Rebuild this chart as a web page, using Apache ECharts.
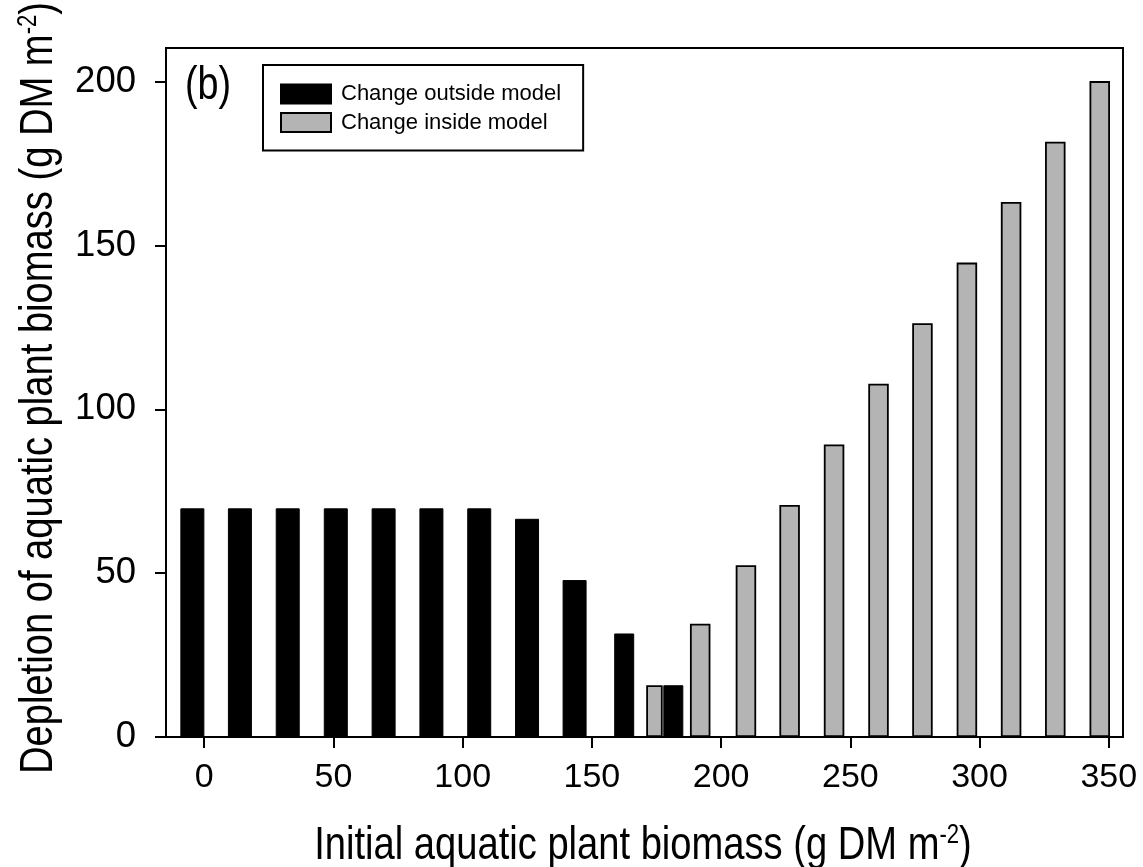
<!DOCTYPE html>
<html>
<head>
<meta charset="utf-8">
<script src="https://cdn.jsdelivr.net/npm/echarts@6/dist/echarts.min.js"></script>
<style>
  html, body { margin: 0; padding: 0; background: #fff; }
  #chart { width: 1143px; height: 867px; }
</style>
</head>
<body>
<div id="chart"></div>
<script>
// depletion values (x = initial biomass, y = depletion)
const outsideX = [-4.6, 13.8, 32.3, 50.9, 69.4, 87.9, 106.4, 124.9, 143.3];
const outsideY = [69.8, 69.8, 69.8, 69.8, 69.8, 69.8, 69.8, 66.6, 47.9];
const outsideNarrowX = [162.5, 181.5];
const outsideNarrowY = [31.6, 15.8];
const insideNarrowX = [174.2];
const insideNarrowY = [15.8];
const insideX = [191.9, 209.6, 226.5, 243.7, 260.9, 277.9, 295.1, 312.2, 329.3, 346.5];
const insideY = [34.6, 52.4, 70.8, 89.3, 107.8, 126.3, 144.8, 163.3, 181.7, 200.2];

const xTicks = [0, 50, 100, 150, 200, 250, 300, 350];
const yTicks = [0, 50, 100, 150, 200];

const OUTSIDE = "Change outside model";
const INSIDE = "Change inside model";
const X_TITLE = "{t|Initial aquatic plant biomass (g DM m}{s|-2}{t|)}";
const Y_TITLE = "{t|Depletion of aquatic plant biomass (g DM m}{s|-2}{t|)}";

const font = "'Liberation Sans', Arial, sans-serif";
// no condensed face is installed, so the narrow titles are squeezed horizontally
const SQUEEZE = 0.82;

const pairs = (xs, ys) => xs.map((x, i) => [x, ys[i]]);

const X_MIN = -14.8;
const X_MAX = 355.5;

// one hidden x axis per bar series so every bar stays centred on its value
const hiddenX = () => ({
  type: "value",
  min: X_MIN,
  max: X_MAX,
  show: false,
});

const titleRich = {
  t: { fontFamily: font, fontSize: 46.5, fill: "#000" },
  s: { fontFamily: font, fontSize: 27, fill: "#000", verticalAlign: "top" },
};

const chart = echarts.init(document.getElementById("chart"));

const option = {
  animation: false,
  graphic: [
    {
      type: "text",
      x: 185,
      y: 86,
      scaleX: SQUEEZE,
      style: { text: "(b)", fontFamily: font, fontSize: 46, fill: "#000", align: "left", verticalAlign: "middle" },
    },
    {
      type: "text",
      x: 643,
      y: 846,
      scaleX: SQUEEZE,
      style: { text: X_TITLE, rich: titleRich, align: "center", verticalAlign: "middle" },
    },
    {
      type: "text",
      x: 39,
      y: 388,
      rotation: Math.PI / 2,
      scaleX: SQUEEZE,
      style: { text: Y_TITLE, rich: titleRich, align: "center", verticalAlign: "middle" },
    },
  ],
  legend: {
    data: [OUTSIDE, INSIDE],
    orient: "vertical",
    left: 263,
    top: 65,
    padding: [18, 22, 17, 17],
    itemGap: 6.5,
    itemWidth: 50,
    itemHeight: 19,
    borderColor: "#000",
    borderWidth: 2,
    borderRadius: 0,
    icon: "rect",
    textStyle: { fontFamily: font, fontSize: 22, color: "#000", padding: [0, 0, 0, 5] },
  },
  grid: {
    left: 166,
    right: 20,
    top: 48,
    bottom: 130,
    outerBoundsMode: "none",
    containLabel: false,
    show: true,
    borderColor: "#000",
    borderWidth: 2,
  },
  xAxis: [
    {
      type: "value",
      min: X_MIN,
      max: X_MAX,
      splitLine: { show: false },
      axisLine: { onZero: false, lineStyle: { color: "#000", width: 2 } },
      axisTick: { customValues: xTicks, inside: false, length: 11, lineStyle: { color: "#000", width: 2 } },
      axisLabel: {
        customValues: xTicks,
        margin: 24,
        fontFamily: font,
        fontSize: 34,
        color: "#000",
      },
    },
    hiddenX(),
    hiddenX(),
    hiddenX(),
  ],
  yAxis: {
    type: "value",
    min: 0,
    max: 210.3,
    splitLine: { show: false },
    axisLine: { onZero: false, lineStyle: { color: "#000", width: 2 } },
    axisTick: { customValues: yTicks, inside: false, length: 11, lineStyle: { color: "#000", width: 2 } },
    axisLabel: {
      customValues: yTicks,
      margin: 30,
      fontFamily: font,
      fontSize: 36.5,
      color: "#000",
    },
  },
  series: [
    {
      name: OUTSIDE,
      type: "bar",
      xAxisIndex: 0,
      barWidth: 24,
      data: pairs(outsideX, outsideY),
      itemStyle: { color: "#000", borderColor: "#000", borderWidth: 1 },
    },
    {
      name: OUTSIDE,
      type: "bar",
      xAxisIndex: 1,
      barWidth: 20,
      data: pairs(outsideNarrowX, outsideNarrowY),
      itemStyle: { color: "#000", borderColor: "#000", borderWidth: 1 },
    },
    {
      name: INSIDE,
      type: "bar",
      xAxisIndex: 2,
      barWidth: 16.5,
      data: pairs(insideNarrowX, insideNarrowY),
      itemStyle: { color: "#b4b4b4", borderColor: "#000", borderWidth: 1.8 },
    },
    {
      name: INSIDE,
      type: "bar",
      xAxisIndex: 3,
      barWidth: 20.5,
      data: pairs(insideX, insideY),
      itemStyle: { color: "#b4b4b4", borderColor: "#000", borderWidth: 1.8 },
    },
  ],
};

chart.setOption(option);
window.addEventListener("resize", chart.resize);
</script>
</body>
</html>
